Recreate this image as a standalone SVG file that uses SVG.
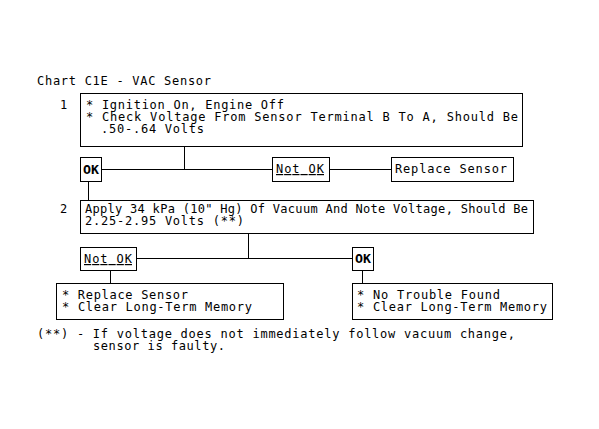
<svg xmlns="http://www.w3.org/2000/svg" width="599" height="429" viewBox="0 0 599 429">
<style>
text{font-family:"DejaVu Sans Mono","Liberation Mono",monospace;font-size:12px;fill:#000}
.b{font-weight:bold;font-size:12px}
.u{text-decoration:underline}
rect{fill:none;stroke:#000;stroke-width:1}
line{stroke:#000;stroke-width:1}
</style>
<rect width="599" height="429" fill="#fff" style="fill:#fff;stroke:none"/>
<text x="37" y="85" textLength="174" lengthAdjust="spacing">Chart C1E - VAC Sensor</text>
<g id="step1">
<text x="60" y="109">1</text>
<rect x="80.5" y="93.5" width="442" height="53"/>
<text x="86" y="109" textLength="198" lengthAdjust="spacing">* Ignition On, Engine Off</text>
<text x="86" y="121" textLength="432" lengthAdjust="spacing">* Check Voltage From Sensor Terminal B To A, Should Be</text>
<text x="101" y="133" textLength="103" lengthAdjust="spacing">.50-.64 Volts</text>
</g>
<g id="ok1">
<rect x="80.5" y="157.5" width="21" height="24"/>
<text class="b" x="83" y="174" textLength="16" lengthAdjust="spacingAndGlyphs">OK</text>
</g>
<g id="notok1">
<rect x="272.5" y="157.5" width="57" height="24"/>
<text class="u" x="276" y="173" textLength="48" lengthAdjust="spacing">Not OK</text>
</g>
<g id="replace1">
<rect x="391.5" y="157.5" width="122" height="24"/>
<text x="395" y="173" textLength="112" lengthAdjust="spacing">Replace Sensor</text>
</g>
<g id="step2">
<text x="60" y="213">2</text>
<rect x="80.5" y="200.5" width="453" height="33"/>
<text x="85" y="213" textLength="443" lengthAdjust="spacing">Apply 34 kPa (10" Hg) Of Vacuum And Note Voltage, Should Be</text>
<text x="85" y="225" textLength="159" lengthAdjust="spacing">2.25-2.95 Volts (**)</text>
</g>
<g id="notok2">
<rect x="80.5" y="247.5" width="56" height="23"/>
<text class="u" x="84" y="263" textLength="48" lengthAdjust="spacing">Not OK</text>
</g>
<g id="ok2">
<rect x="352.5" y="247.5" width="21" height="23"/>
<text class="b" x="355" y="263" textLength="16" lengthAdjust="spacingAndGlyphs">OK</text>
</g>
<g id="result-fail">
<rect x="56.5" y="283.5" width="227" height="36"/>
<text x="62" y="299" textLength="126" lengthAdjust="spacing">* Replace Sensor</text>
<text x="62" y="311" textLength="190" lengthAdjust="spacing">* Clear Long-Term Memory</text>
</g>
<g id="result-ok">
<rect x="352.5" y="283.5" width="200" height="36"/>
<text x="357" y="299" textLength="143" lengthAdjust="spacing">* No Trouble Found</text>
<text x="357" y="311" textLength="190" lengthAdjust="spacing">* Clear Long-Term Memory</text>
</g>
<g id="connectors">
<line x1="184.5" y1="146" x2="184.5" y2="169"/>
<line x1="101" y1="169.5" x2="272" y2="169.5"/>
<line x1="329" y1="169.5" x2="391" y2="169.5"/>
<line x1="88.5" y1="181" x2="88.5" y2="200"/>
<line x1="248.5" y1="233" x2="248.5" y2="258"/>
<line x1="136" y1="258.5" x2="352" y2="258.5"/>
<line x1="110.5" y1="270" x2="110.5" y2="283"/>
<line x1="362.5" y1="270" x2="362.5" y2="283"/>
</g>
<g id="footnote">
<text x="37" y="338" textLength="478" lengthAdjust="spacing">(**) - If voltage does not immediately follow vacuum change,</text>
<text x="93" y="350" textLength="132" lengthAdjust="spacing">sensor is faulty.</text>
</g>
</svg>
